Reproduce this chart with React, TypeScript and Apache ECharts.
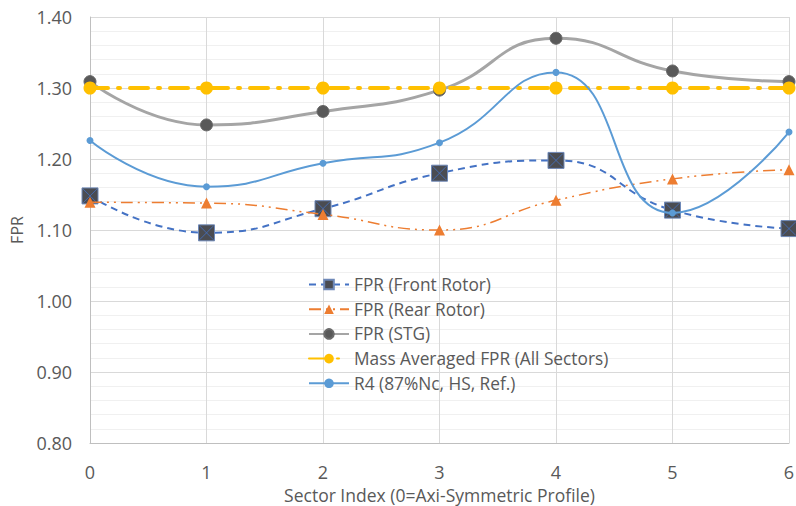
import React, { useEffect, useRef } from "react";
import * as echarts from "echarts";

const sectors = [0, 1, 2, 3, 4, 5, 6];
const frontRotor = [1.148, 1.096, 1.13, 1.18, 1.198, 1.128, 1.102];
const rearRotor = [1.139, 1.138, 1.122, 1.1, 1.142, 1.172, 1.185];
const stg = [1.309, 1.248, 1.267, 1.297, 1.37, 1.324, 1.309];
const massAvg = [1.3, 1.3, 1.3, 1.3, 1.3, 1.3, 1.3];
const r4 = [1.226, 1.161, 1.194, 1.223, 1.322, 1.124, 1.238];

const names = [
  "FPR (Front Rotor)",
  "FPR (Rear Rotor)",
  "FPR (STG)",
  "Mass Averaged FPR (All Sectors)",
  "R4 (87%Nc, HS, Ref.)",
];

const pairs = (ys: number[]) => sectors.map((x, i) => [x, ys[i]]);

const FONT = "'Open Sans', 'Noto Sans', sans-serif";

export default function App() {
  const ref = useRef<HTMLDivElement>(null);
  useEffect(() => {
    if (!ref.current) return;
    const chart = echarts.init(ref.current, undefined, { renderer: "svg" });
    chart.setOption({
      animation: false,
      backgroundColor: "#ffffff",
      textStyle: { fontFamily: FONT },
      grid: { left: 90, right: 7, top: 17, bottom: 63, outerBoundsMode: "none", containLabel: false },
      legend: {
        data: names,
        orient: "vertical",
        left: 303,
        top: 271,
        itemWidth: 40,
        itemHeight: 12,
        itemGap: 7.7,
        textStyle: { fontFamily: FONT, fontSize: 17.3, color: "#595959", lineHeight: 17 },
      },
      xAxis: {
        type: "value",
        min: 0,
        max: 6,
        interval: 1,
        name: "Sector Index (0=Axi-Symmetric Profile)",
        nameLocation: "middle",
        nameGap: 42,
        nameTextStyle: { fontFamily: FONT, fontSize: 17.5, color: "#595959" },
        axisLine: { show: true, lineStyle: { color: "#BFBFBF", width: 1 } },
        axisTick: { show: false },
        axisLabel: { margin: 20, fontFamily: FONT, fontSize: 18, color: "#595959" },
        splitLine: { show: true, lineStyle: { color: "#D9D9D9", width: 1 } },
      },
      yAxis: {
        type: "value",
        min: 0.8,
        max: 1.4,
        interval: 0.1,
        name: "FPR",
        nameLocation: "middle",
        nameGap: 65,
        nameRotate: 90,
        nameTextStyle: { fontFamily: FONT, fontSize: 16, color: "#595959" },
        axisLine: { show: true, lineStyle: { color: "#BFBFBF", width: 1 } },
        axisTick: { show: false },
        axisLabel: {
          margin: 18,
          fontFamily: FONT,
          fontSize: 18,
          color: "#595959",
          formatter: (v: number) => v.toFixed(2),
        },
        splitLine: { show: true, lineStyle: { color: "#D9D9D9", width: 1 } },
        minorTick: { show: false, splitNumber: 5 },
        minorSplitLine: { show: true, lineStyle: { color: "#F0F0F0", width: 1 } },
      },
      series: [
        {
          name: names[0],
          type: "line",
          data: pairs(frontRotor),
          smooth: 0.5,
          symbol: "rect",
          symbolSize: 16,
          lineStyle: { color: "#4472C4", width: 2, type: [7, 5] },
          itemStyle: { color: "#4a4c52", borderColor: "#6f89b8", borderWidth: 1 },
          z: 2,
        },
        {
          type: "scatter",
          data: pairs(frontRotor),
          symbol: "path://M0,0L10,10M10,0L0,10",
          symbolSize: 14,
          itemStyle: { color: "transparent", borderColor: "#4472C4", borderWidth: 1 },
          silent: true,
          z: 3,
        },
        {
          name: names[1],
          type: "line",
          data: pairs(rearRotor),
          smooth: 0.5,
          symbol: "triangle",
          symbolSize: 11,
          lineStyle: { color: "#ED7D31", width: 1.5, type: [12, 5, 2, 5, 2, 5] },
          itemStyle: { color: "#ED7D31" },
          z: 4,
        },
        {
          name: names[2],
          type: "line",
          data: pairs(stg),
          smooth: 0.5,
          symbol: "circle",
          symbolSize: 12,
          lineStyle: { color: "#A5A5A5", width: 3 },
          itemStyle: { color: "#595959", borderColor: "#6b6b6b", borderWidth: 1 },
          z: 5,
        },
        {
          name: names[3],
          type: "line",
          data: pairs(massAvg),
          symbol: "circle",
          symbolSize: 13,
          lineStyle: { color: "#FFC000", width: 4, type: [18, 10, 2, 10], cap: "round" },
          itemStyle: { color: "#FFC000" },
          z: 6,
        },
        {
          name: names[4],
          type: "line",
          data: pairs(r4),
          smooth: 0.5,
          symbol: "circle",
          symbolSize: 7,
          lineStyle: { color: "#5B9BD5", width: 2 },
          itemStyle: { color: "#5B9BD5" },
          z: 7,
        },
      ],
    });
    return () => chart.dispose();
  }, []);
  return <div ref={ref} style={{ width: 796, height: 506, position: "absolute", left: 0, top: 0 }} />;
}
